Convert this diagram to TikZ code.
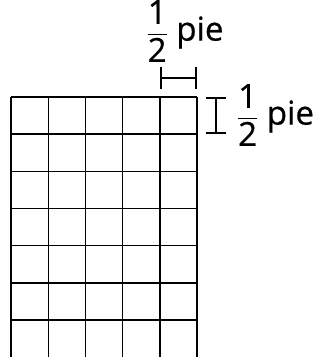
\documentclass[tikz,border=0pt]{standalone}
\usepackage{amsmath}
\usepackage{fontspec}
\setmainfont{Open Sans}
\newfontfamily\lblfont[FakeBold=0.6]{Open Sans}
\usetikzlibrary{arrows.meta}

\begin{document}
\begin{tikzpicture}[x=1pt,y=1pt,line width=1.4pt]
\useasboundingbox (0,0) rectangle (320,357);
% grid of half-foot squares
\draw (11,260)--(197,260);
\draw (11,222.8)--(197,222.8);
\draw (11,185.6)--(197,185.6);
\draw (11,148.4)--(197,148.4);
\draw (11,111.2)--(197,111.2);
\draw (11,74)--(197,74);
\draw (11,36.8)--(197,36.8);
\draw (11,260)--(11,-2);
\draw (48.2,260)--(48.2,-2);
\draw (85.4,260)--(85.4,-2);
\draw (122.6,260)--(122.6,-2);
\draw (159.8,260)--(159.8,-2);
\draw (197,260)--(197,-2);
% measures
\coordinate (wl) at (159.8,279);
\coordinate (wr) at (197,279);
\coordinate (ht) at (216,260);
\coordinate (hb) at (216,222.8);
\draw[line width=2pt,{Bar[width=22pt]}-{Bar[width=22pt]}] (wl)--(wr);
\draw[line width=2pt,{Bar[width=20pt]}-{Bar[width=20pt]}] (ht)--(hb);
\node[inner sep=0pt] (wlab) at (185,326) {\lblfont\fontsize{33}{38}\selectfont$\dfrac{\text{1}}{\text{2}}$ pie};
\node[inner sep=0pt] (hlab) at (275.5,242) {\lblfont\fontsize{33}{38}\selectfont$\dfrac{\text{1}}{\text{2}}$ pie};
\end{tikzpicture}
\end{document}
